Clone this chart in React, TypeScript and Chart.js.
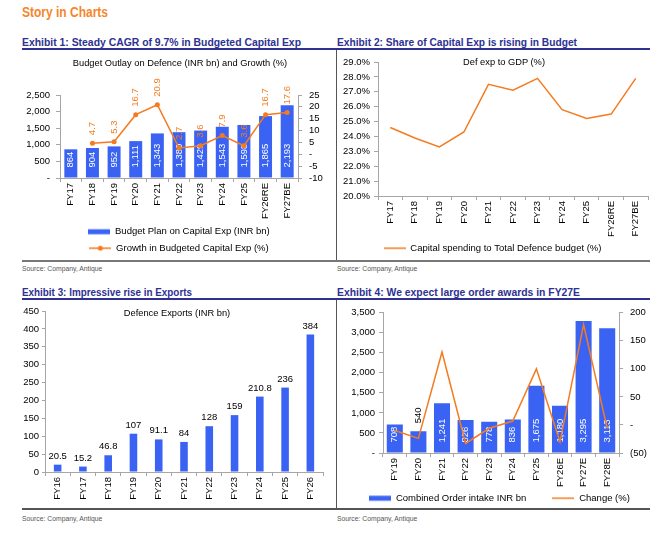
import React, { useEffect, useLayoutEffect, useRef } from 'react';
import { Chart, registerables } from 'chart.js';

Chart.register(...registerables);

// Exhibit 1: capital budget and growth
const budgetYears = ['FY17', 'FY18', 'FY19', 'FY20', 'FY21', 'FY22', 'FY23', 'FY24', 'FY25', 'FY26RE', 'FY27BE'];
const capexBudget = [864, 904, 952, 1111, 1343, 1380, 1429, 1543, 1598, 1865, 2193];
const capexGrowth = [null, 4.7, 5.3, 16.7, 20.9, 2.7, 3.6, 7.9, 3.6, 16.7, 17.6];

// Exhibit 2: share of capital exp in defence budget (%)
const shareYears = ['FY17', 'FY18', 'FY19', 'FY20', 'FY21', 'FY22', 'FY23', 'FY24', 'FY25', 'FY26RE', 'FY27BE'];
const capexShare = [24.6, 23.9, 23.3, 24.3, 27.5, 27.1, 27.9, 25.8, 25.2, 25.5, 27.9];

// Exhibit 3: defence exports (INR bn)
const exportYears = ['FY16', 'FY17', 'FY18', 'FY19', 'FY20', 'FY21', 'FY22', 'FY23', 'FY24', 'FY25', 'FY26'];
const exportValues = [20.5, 15.2, 46.8, 107, 91.1, 84, 128, 159, 210.8, 236, 384];

// Exhibit 4: combined order intake
const orderYears = ['FY19', 'FY20', 'FY21', 'FY22', 'FY23', 'FY24', 'FY25', 'FY26E', 'FY27E', 'FY28E'];
const orderIntake = [708, 540, 1241, 826, 778, 836, 1675, 1180, 3295, 3113];
const orderChange = [-10, -24, 130, -33, -6, 7, 100, -30, 179, -6];

const NAVY = '#2E3192';
const ORANGE = '#F47B20';
const TITLE_ORANGE = '#F5862B';
const BLUE = '#3B63F3';
const AXIS = '#A6A6A6';
const SANS = '"Liberation Sans", Arial, sans-serif';
const FS = 9.5;

Chart.defaults.font.family = SANS;
Chart.defaults.font.size = FS;
Chart.defaults.color = '#000';

const fmtThousands = (v: number) => (v === 0 ? '-' : v.toLocaleString('en-US'));

// draws value labels right after each dataset
const valueLabels = {
  id: 'valueLabels',
  afterDatasetDraw(chart: any, args: any, opts: any) {
    const spec = opts?.specs?.[args.index];
    if (!spec) return;
    const ds = chart.data.datasets[args.index];
    const ctx = chart.ctx;
    ctx.save();
    ctx.font = `${FS}px ${SANS}`;
    args.meta.data.forEach((el: any, i: number) => {
      const v = ds.data[i];
      if (v === null || v === undefined) return;
      const text = spec.fmt(v);
      const w = ctx.measureText(text).width;
      if (spec.mode === 'above') {
        ctx.fillStyle = spec.color;
        ctx.textAlign = 'center';
        ctx.textBaseline = 'alphabetic';
        ctx.fillText(text, el.x, el.y - 6);
        return;
      }
      let y0 = el.y - 8;
      let color = spec.color;
      if (spec.mode === 'base') {
        const h = el.base - el.y;
        if (h < w + 6) {
          y0 = el.y - 8;
          color = '#000';
        } else {
          y0 = el.base - 10;
        }
      }
      ctx.save();
      ctx.translate(el.x, y0);
      ctx.rotate(-Math.PI / 2);
      ctx.textAlign = 'left';
      ctx.textBaseline = 'middle';
      ctx.fillStyle = color;
      ctx.fillText(text, 0, 0);
      ctx.restore();
    });
    ctx.restore();
  },
};

function swatch(kind: 'bar' | 'line' | 'lineDot'): HTMLCanvasElement {
  const c = document.createElement('canvas');
  c.width = 22;
  c.height = 8;
  const g = c.getContext('2d')!;
  if (kind === 'bar') {
    g.fillStyle = BLUE;
    g.fillRect(0, 1.5, 22, 5);
  } else {
    g.strokeStyle = ORANGE;
    g.lineWidth = 1.5;
    g.beginPath();
    g.moveTo(0, 4);
    g.lineTo(22, 4);
    g.stroke();
    if (kind === 'lineDot') {
      g.fillStyle = ORANGE;
      g.beginPath();
      g.arc(11, 4, 2.5, 0, Math.PI * 2);
      g.fill();
    }
  }
  return c;
}

function legendOpts(kinds: ('bar' | 'line' | 'lineDot')[], padding: number, textPad: string[] = []) {
  const imgs = kinds.map(swatch);
  return {
    position: 'bottom',
    labels: {
      usePointStyle: true,
      pointStyleWidth: 22,
      padding,
      color: '#000',
      font: { size: FS },
      sort: (a: any, b: any) => a.datasetIndex - b.datasetIndex,
      generateLabels: (chart: any) =>
        Chart.defaults.plugins.legend.labels.generateLabels(chart).map((item: any) => ({
          ...item,
          pointStyle: imgs[item.datasetIndex],
          text: item.text + (textPad[item.datasetIndex] || ''),
        })),
    },
  };
}

const axisGrid = (tickLength = 4, offset = false) => ({
  drawOnChartArea: false,
  drawTicks: true,
  tickLength,
  color: AXIS,
  offset,
});

const rotatedX = (height: number) => ({
  grid: axisGrid(4, true),
  border: { color: AXIS },
  ticks: { minRotation: 90, maxRotation: 90, autoSkip: false, padding: 1 },
  afterFit: (s: any) => {
    s.height = height;
  },
});

const yAxis = (min: number, max: number, step: number, width: number, padding: number, position: string, callback?: (v: number) => string, tickLength = 4) => ({
  position,
  min,
  max,
  ticks: { stepSize: step, padding, autoSkip: false, ...(callback ? { callback } : {}) },
  grid: axisGrid(tickLength),
  border: { color: AXIS },
  afterFit: (s: any) => {
    s.width = width;
  },
});

function budgetConfig(): any {
  return {
    type: 'bar',
    data: {
      labels: budgetYears,
      datasets: [
        {
          type: 'bar',
          label: 'Budget Plan on Capital Exp (INR bn)',
          data: capexBudget,
          backgroundColor: BLUE,
          yAxisID: 'y',
          order: 1,
          categoryPercentage: 0.8,
          barPercentage: 0.75,
        },
        {
          type: 'line',
          label: 'Growth in Budgeted Capital Exp (%)',
          data: capexGrowth,
          borderColor: ORANGE,
          backgroundColor: ORANGE,
          borderWidth: 1.5,
          pointRadius: 2.5,
          pointBorderWidth: 0,
          pointBackgroundColor: ORANGE,
          yAxisID: 'y1',
          order: 0,
        },
      ],
    },
    options: {
      animation: false,
      responsive: true,
      maintainAspectRatio: false,
      layout: { padding: { top: 43, right: 0, left: 0, bottom: 0 } },
      plugins: {
        legend: legendOpts(['bar', 'lineDot'], 7),
        tooltip: { enabled: false },
        valueLabels: {
          specs: {
            0: { mode: 'base', color: '#fff', fmt: (v: number) => v.toLocaleString('en-US') },
            1: { mode: 'aboveRot', color: ORANGE, fmt: (v: number) => v.toFixed(1) },
          },
        },
      },
      scales: {
        x: rotatedX(42),
        y: yAxis(0, 2500, 500, 38, 6, 'left', fmtThousands),
        y1: yAxis(-10, 25, 5, 38, 7, 'right', (v: number) => (v === 0 ? '-' : String(v))),
      },
    },
    plugins: [valueLabels],
  };
}

function shareConfig(): any {
  return {
    type: 'line',
    data: {
      labels: shareYears,
      datasets: [
        {
          label: 'Capital spending to Total Defence budget (%)',
          data: capexShare,
          borderColor: ORANGE,
          backgroundColor: ORANGE,
          borderWidth: 1.5,
          pointRadius: 0,
          tension: 0,
        },
      ],
    },
    options: {
      animation: false,
      responsive: true,
      maintainAspectRatio: false,
      layout: { padding: { top: 10, right: 2, left: 0, bottom: 0 } },
      plugins: { legend: legendOpts(['line'], 7), tooltip: { enabled: false } },
      scales: {
        x: { ...rotatedX(40.5), offset: true },
        y: yAxis(20, 29, 1, 41, 4, 'left', (v: number) => v.toFixed(1) + '%'),
      },
    },
  };
}

function exportConfig(): any {
  return {
    type: 'bar',
    data: {
      labels: exportYears,
      datasets: [
        {
          label: 'Defence Exports (INR bn)',
          data: exportValues,
          backgroundColor: BLUE,
          categoryPercentage: 0.8,
          barPercentage: 0.375,
        },
      ],
    },
    options: {
      animation: false,
      responsive: true,
      maintainAspectRatio: false,
      layout: { padding: { top: 11, right: 13, left: 0, bottom: 0 } },
      plugins: {
        legend: { display: false },
        tooltip: { enabled: false },
        valueLabels: { specs: { 0: { mode: 'above', color: '#000', fmt: (v: number) => String(v) } } },
      },
      scales: {
        x: rotatedX(35),
        y: yAxis(0, 450, 50, 23, 3, 'left', undefined, 3),
      },
    },
    plugins: [valueLabels],
  };
}

function orderConfig(): any {
  return {
    type: 'bar',
    data: {
      labels: orderYears,
      datasets: [
        {
          type: 'bar',
          label: 'Combined Order intake INR bn',
          data: orderIntake,
          backgroundColor: BLUE,
          yAxisID: 'y',
          order: 1,
          categoryPercentage: 0.85,
          barPercentage: 0.8,
        },
        {
          type: 'line',
          label: 'Change (%)',
          data: orderChange,
          borderColor: ORANGE,
          backgroundColor: ORANGE,
          borderWidth: 1.5,
          pointRadius: 0,
          yAxisID: 'y1',
          order: 0,
        },
      ],
    },
    options: {
      animation: false,
      responsive: true,
      maintainAspectRatio: false,
      layout: { padding: { top: 10, right: 0, left: 12, bottom: 0 } },
      plugins: {
        legend: legendOpts(['bar', 'line'], 5, ['        ']),
        tooltip: { enabled: false },
        valueLabels: {
          specs: { 0: { mode: 'base', color: '#fff', fmt: (v: number) => v.toLocaleString('en-US') } },
        },
      },
      scales: {
        x: rotatedX(35.5),
        y: yAxis(0, 3500, 500, 34, 4, 'left', fmtThousands),
        y1: yAxis(-50, 200, 50, 31, 7, 'right', (v: number) => (v === 0 ? '-' : v < 0 ? `(${-v})` : String(v))),
      },
    },
    plugins: [valueLabels],
  };
}

function ChartBox({ make, left, top, width, height }: { make: () => any; left: number; top: number; width: number; height: number }) {
  const canvasRef = useRef<HTMLCanvasElement | null>(null);
  useEffect(() => {
    if (!canvasRef.current) return;
    const chart = new Chart(canvasRef.current, make());
    return () => chart.destroy();
  }, [make]);
  return (
    <div style={{ position: 'absolute', left, top, width, height }}>
      <canvas ref={canvasRef} />
    </div>
  );
}

// squeezes a heading horizontally to the width it has in the source
function FitText({ left, top, width, style, children }: { left: number; top: number; width: number; style: React.CSSProperties; children: React.ReactNode }) {
  const ref = useRef<HTMLDivElement | null>(null);
  useLayoutEffect(() => {
    const el = ref.current;
    if (!el) return;
    el.style.transform = 'none';
    const w = el.getBoundingClientRect().width;
    if (w > 0) el.style.transform = `scaleX(${width / w})`;
  }, [width]);
  return (
    <div ref={ref} style={{ position: 'absolute', left, top, whiteSpace: 'nowrap', transformOrigin: '0 0', ...style }}>
      {children}
    </div>
  );
}

const abs = (left: number, top: number, extra: React.CSSProperties = {}): React.CSSProperties => ({
  position: 'absolute',
  left,
  top,
  whiteSpace: 'nowrap',
  ...extra,
});

const exhibitStyle: React.CSSProperties = {
  fontFamily: SANS,
  fontWeight: 'bold',
  fontSize: 11.5,
  lineHeight: '12px',
  color: NAVY,
};

const chartTitle: React.CSSProperties = {
  fontFamily: SANS,
  fontSize: 9.3,
  lineHeight: '12px',
  color: '#000',
  transform: 'translateX(-50%)',
  zIndex: 2,
};

const sourceStyle: React.CSSProperties = {
  fontFamily: SANS,
  fontSize: 6.8,
  lineHeight: '7px',
  color: '#555',
};

export default function App() {
  return (
    <div style={{ position: 'absolute', left: 0, top: 0, width: 672, height: 534, background: '#fff', overflow: 'hidden' }}>
      <FitText left={22} top={5} width={86} style={{ fontFamily: SANS, fontWeight: 'bold', fontSize: 14, lineHeight: '15px', color: TITLE_ORANGE }}>
        Story in Charts
      </FitText>

      <FitText left={22} top={35.5} width={279} style={exhibitStyle}>
        Exhibit 1: Steady CAGR of 9.7% in Budgeted Capital Exp
      </FitText>
      <FitText left={337} top={35.5} width={240} style={exhibitStyle}>
        Exhibit 2: Share of Capital Exp is rising in Budget
      </FitText>
      <FitText left={22} top={286} width={170} style={exhibitStyle}>
        Exhibit 3: Impressive rise in Exports
      </FitText>
      <FitText left={337} top={286} width={243} style={exhibitStyle}>
        Exhibit 4: We expect large order awards in FY27E
      </FitText>

      <div style={abs(22, 48, { width: 628, height: 2, background: NAVY })} />
      <div style={abs(22, 298, { width: 628, height: 2, background: NAVY })} />
      <div style={abs(22, 260, { width: 628, height: 2, background: '#777', zIndex: 3 })} />
      <div style={abs(22, 508, { width: 628, height: 2, background: '#555', zIndex: 3 })} />
      <div style={abs(336, 50, { width: 1.2, height: 211, background: '#555' })} />
      <div style={abs(336, 300, { width: 1.2, height: 209, background: '#555' })} />

      <div style={abs(22, 265, sourceStyle)}>Source: Company, Antique</div>
      <div style={abs(337, 265, sourceStyle)}>Source: Company, Antique</div>
      <div style={abs(22, 515, sourceStyle)}>Source: Company, Antique</div>
      <div style={abs(337, 515, sourceStyle)}>Source: Company, Antique</div>

      <ChartBox make={budgetConfig} left={22} top={52} width={314} height={211} />
      <ChartBox make={shareConfig} left={337} top={52} width={313} height={211} />
      <ChartBox make={exportConfig} left={22} top={300} width={314} height={207} />
      <ChartBox make={orderConfig} left={337} top={300} width={313} height={213} />

      <div style={abs(180, 57, chartTitle)}>Budget Outlay on Defence (INR bn) and Growth (%)</div>
      <div style={abs(504, 56, chartTitle)}>Def exp to GDP (%)</div>
      <div style={abs(177, 307, chartTitle)}>Defence Exports (INR bn)</div>
    </div>
  );
}
